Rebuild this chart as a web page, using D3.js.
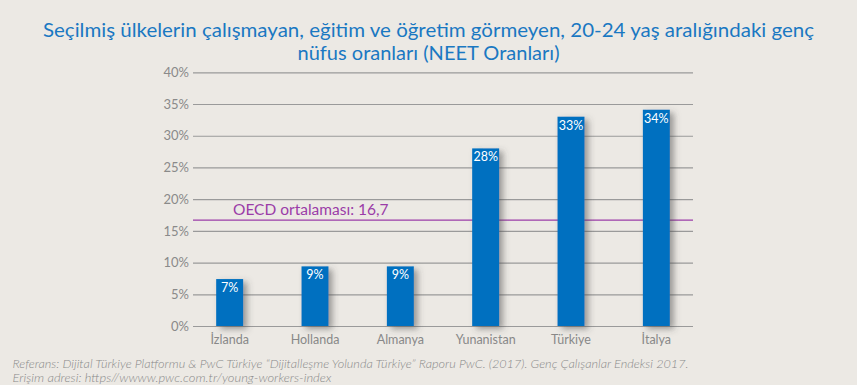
<!DOCTYPE html>
<html>
<head>
<meta charset="utf-8">
<script src="https://cdn.jsdelivr.net/npm/d3@7"></script>
<style>
  html, body { margin: 0; padding: 0; background: #ece9e4; }
  svg { display: block; font-family: Lato, "Noto Sans", sans-serif; }
</style>
</head>
<body>
<div id="chart"></div>
<script>
// veriler
const countries = ['İzlanda', 'Hollanda', 'Almanya', 'Yunanistan', 'Türkiye', 'İtalya'];
const values = [7.4, 9.4, 9.4, 28.0, 33.0, 34.1];
const valueLabels = ['7%', '9%', '9%', '28%', '33%', '34%'];
const yTicks = [0, 5, 10, 15, 20, 25, 30, 35, 40];
const oecdValue = 16.7;
const oecdLabel = 'OECD ortalaması: 16,7';
const titleLines = [
  'Seçilmiş ülkelerin çalışmayan, eğitim ve öğretim görmeyen, 20-24 yaş aralığındaki genç',
  'nüfus oranları (NEET Oranları)'
];
const footerLines = [
  'Referans: Dijital Türkiye Platformu & PwC Türkiye “Dijitalleşme Yolunda Türkiye” Raporu PwC. (2017). Genç Çalışanlar Endeksi 2017.',
  'Erişim adresi: https//wwww.pwc.com.tr/young-workers-index'
];

const W = 857, H = 385;
const plotLeft = 193, plotRight = 693, plotTop = 72.3, plotBottom = 326;

const svg = d3.select('#chart').append('svg')
  .attr('width', W).attr('height', H);

svg.append('rect').attr('width', W).attr('height', H).attr('fill', '#ece9e4');

// gölge
const defs = svg.append('defs');
defs.append('filter').attr('id', 'shadow')
  .attr('x', '-50%').attr('y', '-20%').attr('width', '220%').attr('height', '140%')
  .append('feDropShadow')
  .attr('dx', 4).attr('dy', 3).attr('stdDeviation', 3)
  .attr('flood-color', '#444').attr('flood-opacity', 0.5);

// başlık
svg.append('g').selectAll('text').data(titleLines).join('text')
  .attr('x', W / 2)
  .attr('y', (d, i) => 37 + i * 23)
  .attr('text-anchor', 'middle')
  .attr('font-size', 19)
  .attr('fill', '#1a78c2')
  .attr('textLength', (d, i) => i === 0 ? 771 : 262)
  .attr('lengthAdjust', 'spacingAndGlyphs')
  .text(d => d);

const x = d3.scaleBand()
  .domain(countries)
  .range([187, 699])
  .paddingInner(0.684)
  .paddingOuter(0.342);

const y = d3.scaleLinear()
  .domain([0, 40])
  .range([plotBottom, plotTop]);

// y ekseni + ızgara
const yAxis = svg.append('g')
  .attr('transform', `translate(${plotLeft},0)`)
  .call(d3.axisLeft(y).tickValues(yTicks).tickSize(-(plotRight - plotLeft)).tickPadding(4)
    .tickFormat(d => d + '%'));
yAxis.select('.domain').remove();
yAxis.selectAll('.tick line').attr('stroke', '#9a9a9a').attr('stroke-width', 1.2);
yAxis.selectAll('.tick text').attr('fill', '#8a8a8a').attr('font-size', 13)
  .attr('font-family', 'Lato, "Noto Sans", sans-serif');

// OECD çizgisi
svg.append('line')
  .attr('x1', plotLeft).attr('x2', plotRight)
  .attr('y1', y(oecdValue)).attr('y2', y(oecdValue))
  .attr('stroke', '#9b3ca8').attr('stroke-width', 1.3);
svg.append('text')
  .attr('x', plotLeft + 40)
  .attr('y', y(oecdValue) - 5)
  .attr('font-size', 15.5)
  .attr('fill', '#9b3ca8')
  .text(oecdLabel);

// çubuklar
svg.append('g').selectAll('rect').data(values).join('rect')
  .attr('x', (d, i) => x(countries[i]))
  .attr('y', d => y(d))
  .attr('width', x.bandwidth())
  .attr('height', d => y(0) - y(d))
  .attr('fill', '#0070c0')
  .attr('filter', 'url(#shadow)');

svg.append('g').selectAll('text').data(values).join('text')
  .attr('x', (d, i) => x(countries[i]) + x.bandwidth() / 2)
  .attr('y', d => y(d) + 13)
  .attr('text-anchor', 'middle')
  .attr('font-size', 12.5)
  .attr('fill', '#ffffff')
  .text((d, i) => valueLabels[i]);

// x ekseni etiketleri
const xAxis = svg.append('g')
  .attr('transform', `translate(0,${plotBottom})`)
  .call(d3.axisBottom(x).tickSize(0).tickPadding(9));
xAxis.select('.domain').remove();
xAxis.selectAll('.tick text').attr('fill', '#888').attr('font-size', 12.5)
  .attr('font-family', 'Lato, "Noto Sans", sans-serif');

// kaynak
svg.append('g').selectAll('text').data(footerLines).join('text')
  .attr('x', 12.5)
  .attr('y', (d, i) => 368 + i * 13.5)
  .attr('font-size', 11)
  .attr('font-style', 'italic')
  .attr('font-weight', 300)
  .attr('fill', '#8a8a8a')
  .attr('textLength', (d, i) => i === 0 ? 676 : 319)
  .attr('lengthAdjust', 'spacingAndGlyphs')
  .text(d => d);
</script>
</body>
</html>
